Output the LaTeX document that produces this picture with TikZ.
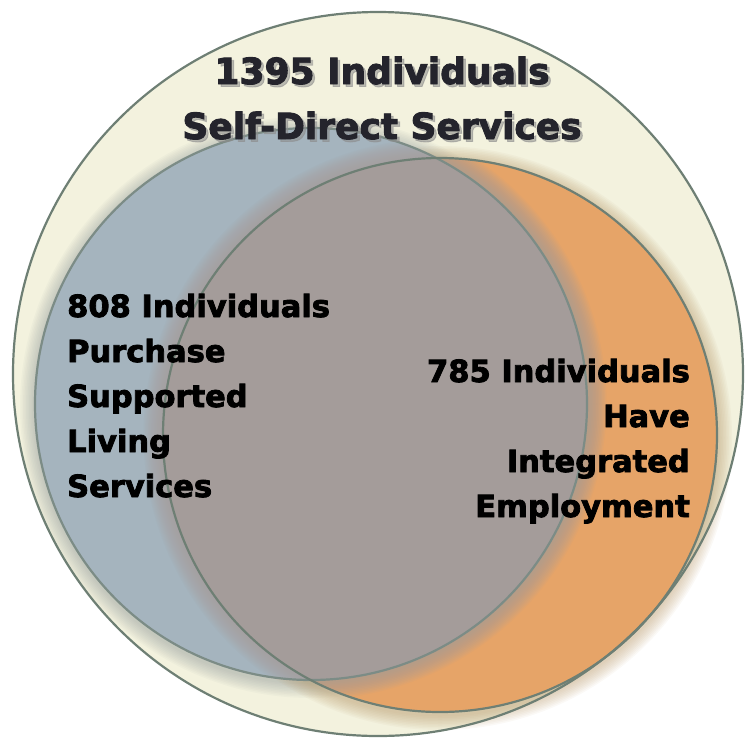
\documentclass[tikz,border=0pt]{standalone}
\usepackage{fontspec}
\newfontfamily\heavyfont{DejaVu Sans Bold}[FakeBold=2.6]
\definecolor{cream}{HTML}{F3F2DE}
\definecolor{bluefill}{HTML}{A5B4BE}
\definecolor{orangefill}{HTML}{E6A468}
\definecolor{overlap}{HTML}{A49C9A}
\definecolor{edge}{HTML}{6E7F74}
\definecolor{tanglow}{HTML}{B89868}
\definecolor{titleink}{HTML}{24242C}
\tikzset{
  ring/.style={draw=edge, line width=2.2pt},
  bodytext/.style={font=\heavyfont\fontsize{30.5}{36}\selectfont, text=black, inner sep=0pt},
  titletext/.style={font=\heavyfont\fontsize{36}{44}\selectfont, text=titleink, inner sep=0pt},
  titleshadow/.style={font=\heavyfont\fontsize{36}{44}\selectfont, text=black!45, opacity=.55, inner sep=0pt},
}
\begin{document}
\begin{tikzpicture}[x=1pt,y=-1pt]
\useasboundingbox (0,0) rectangle (747,740);
\coordinate (O) at (378,374);
\coordinate (B) at (311,404);
\coordinate (R) at (440,435);
% outer circle
\fill[cream] (O) ellipse [x radius=365pt, y radius=362pt];
% glows (soft halos)
\foreach \w in {3,6,...,30}
  \draw[bluefill!75!black, line width=\w pt, opacity=.045] ([yshift=-3pt]B) circle [radius=276pt];
\foreach \w in {3,6,...,30}
  \draw[tanglow, line width=\w pt, opacity=.06] ([yshift=-3pt]R) circle [radius=277pt];
% fills
\fill[bluefill] (B) circle [radius=276pt];
\fill[orangefill] (R) circle [radius=277pt];
\begin{scope}
  \clip (R) circle [radius=277pt];
  \fill[overlap] (B) circle [radius=276pt];
  \foreach \w in {3,6,...,40}
    \draw[overlap, line width=\w pt, opacity=.09] (B) circle [radius=276pt];
\end{scope}
\begin{scope}
  \clip (B) circle [radius=276pt];
  \foreach \w in {3,6,...,40}
    \draw[overlap, line width=\w pt, opacity=.09] (R) circle [radius=277pt];
\end{scope}
% outlines
\draw[ring] (O) ellipse [x radius=365pt, y radius=362pt];
\draw[ring, draw=edge!75!bluefill] (B) circle [radius=276pt];
\draw[ring] (R) circle [radius=277pt];
% title
\node[titleshadow, anchor=base] (t1s) at (384.5,86.5) {1395 Individuals};
\node[titleshadow, anchor=base] (t2s) at (384.5,141.5) {Self-Direct Services};
\node[titletext, anchor=base] (t1) at (382,84) {1395 Individuals};
\node[titletext, anchor=base] (t2) at (382,139) {Self-Direct Services};
% left text
\node[bodytext, anchor=base west] (l1) at (67,317) {808 Individuals};
\node[bodytext, anchor=base west] (l2) at (67,362) {Purchase};
\node[bodytext, anchor=base west] (l3) at (67,407) {Supported};
\node[bodytext, anchor=base west] (l4) at (67,452) {Living};
\node[bodytext, anchor=base west] (l5) at (67,497) {Services};
% right text
\node[bodytext, anchor=base east] (r1) at (690,382) {785 Individuals};
\node[bodytext, anchor=base east] (r2) at (690,427) {Have};
\node[bodytext, anchor=base east] (r3) at (690,472) {Integrated};
\node[bodytext, anchor=base east] (r4) at (690,517) {Employment};
\end{tikzpicture}
\end{document}
